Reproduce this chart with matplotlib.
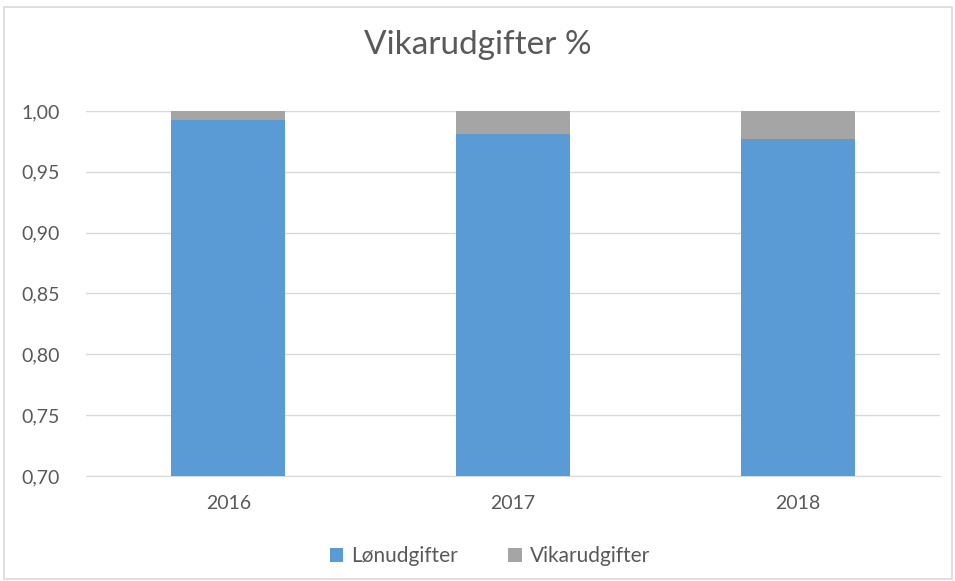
import matplotlib
matplotlib.use("Agg")
import matplotlib.pyplot as plt
from matplotlib.ticker import FuncFormatter, MultipleLocator
from matplotlib.patches import Rectangle

plt.rcParams['font.family'] = ['Lato', 'DejaVu Sans']

years = ["2016", "2017", "2018"]
lon = [0.9926, 0.9813, 0.9770]
vikar = [0.0074, 0.0187, 0.0230]
series_names = ["Lønudgifter", "Vikarudgifter"]
title = "Vikarudgifter %"

blue = "#5B9BD5"
gray = "#A5A5A5"
text_c = "#595959"

fig = plt.figure(figsize=(9.55, 5.81), dpi=100)
ax = fig.add_axes([86/955, 1-476/581, (940-86)/955, (476-111)/581])

x = list(range(len(years)))
ax.bar(x, lon, width=0.4, color=blue, label=series_names[0], zorder=3)
ax.bar(x, vikar, width=0.4, bottom=lon, color=gray, label=series_names[1], zorder=3)

ax.set_xlim(-0.5, 2.5)
ax.set_ylim(0.70, 1.00)
ax.yaxis.set_major_locator(MultipleLocator(0.05))
ax.yaxis.set_major_formatter(FuncFormatter(lambda v, p: f"{v:.2f}".replace(".", ",")))
ax.set_xticks(x)
ax.set_xticklabels(years)
ax.grid(axis='y', color="#D9D9D9", linewidth=1, zorder=0)
for s in ax.spines.values():
    s.set_visible(False)
ax.spines['bottom'].set_visible(True)
ax.spines['bottom'].set_color("#D9D9D9")
ax.tick_params(axis='both', length=0, labelsize=14, colors=text_c)
ax.tick_params(axis='y', pad=19)
ax.tick_params(axis='x', pad=14)

fig.text(0.5, 1-45/581, title, ha='center', va='center', fontsize=24, color=text_c)

leg = fig.legend(loc='center', bbox_to_anchor=(0.513, 1-556/581), ncol=2, frameon=False,
                 fontsize=15, handlelength=0.65, handleheight=0.65, columnspacing=2.4,
                 handletextpad=0.4)
for t in leg.get_texts():
    t.set_color(text_c)

fig.patches.append(Rectangle((4/955, 2/581), 948/955, 572/581, transform=fig.transFigure,
                             fill=False, edgecolor="#D9D9D9", linewidth=1.2))

fig.savefig("out.png", dpi=100)
